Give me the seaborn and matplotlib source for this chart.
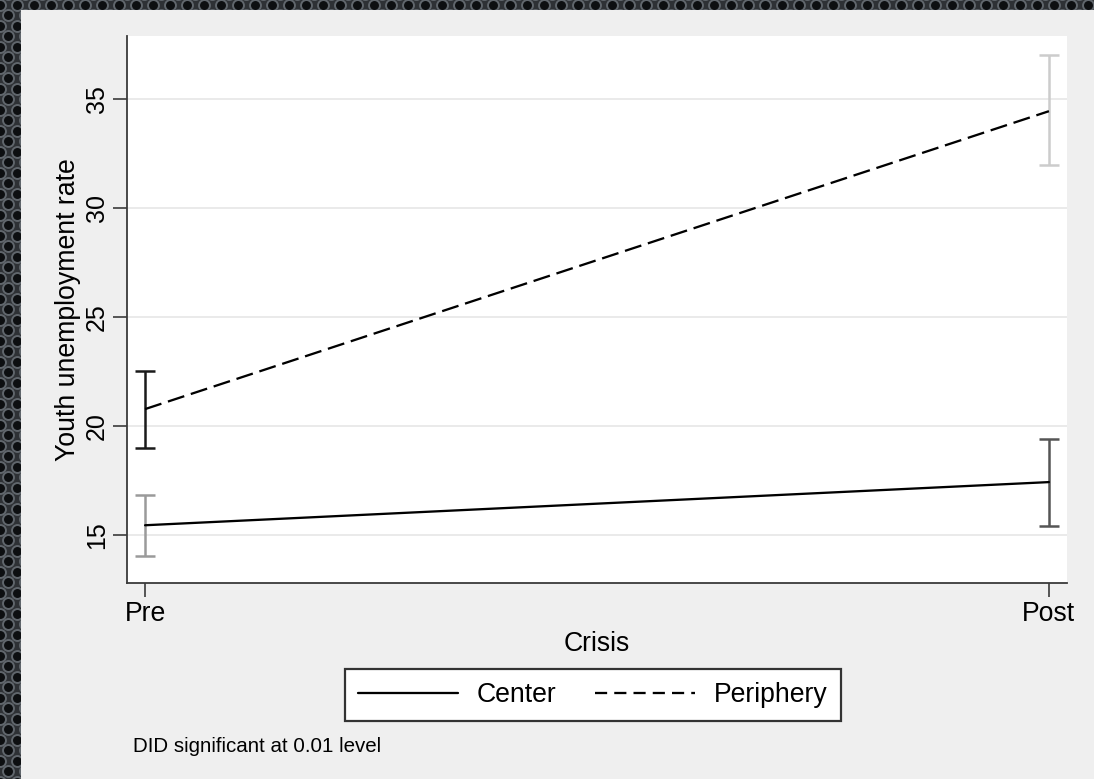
import numpy as np
import pandas as pd
import matplotlib
matplotlib.use("Agg")
import matplotlib.pyplot as plt
from matplotlib.patches import Rectangle
from matplotlib.lines import Line2D
import seaborn as sns

# Youth unemployment before and after the crisis, by region group
periods = ["Pre", "Post"]
groups = ["Center", "Periphery"]
center_mean = [15.45, 17.43]
center_lo = [14.05, 15.41]
center_hi = [16.85, 19.40]
periphery_mean = [20.78, 34.45]
periphery_lo = [18.99, 31.97]
periphery_hi = [22.52, 37.02]
yticks = [15, 20, 25, 30, 35]
note = "DID significant at 0.01 level"

sns.set_theme(style="white")
plt.rcParams["font.family"] = ["Liberation Sans", "DejaVu Sans"]
plt.rcParams["text.color"] = "black"
plt.rcParams["axes.labelcolor"] = "black"

W, H = 1094, 779
fig = plt.figure(figsize=(W / 100, H / 100), dpi=100)
fig.patch.set_facecolor("#2e3135")

# perforated-metal backdrop
bg = fig.add_axes([0, 0, 1, 1], zorder=-5)
bg.set_xlim(0, W)
bg.set_ylim(H, 0)
bg.axis("off")
dx, dy = 17.0, 10.5
xs, ys = [], []
for r, y in enumerate(np.arange(-6, H + dy, dy)):
    off = 0 if r % 2 == 0 else dx / 2
    for x in np.arange(8 + off - dx, W + dx, dx):
        xs.append(x)
        ys.append(y)
bg.scatter(xs, ys, s=62, c="#0d0f11", edgecolors="#60666c", linewidths=1.4)
bg.add_patch(Rectangle((21, 10), W - 21, H - 10, facecolor="#efefef",
                       edgecolor="none", zorder=3))

ax = fig.add_axes([127 / W, 1 - 583 / H, (1067 - 127) / W, (583 - 36) / H])
ax.set_facecolor("white")

df = pd.DataFrame({
    "Crisis": [0, 1, 0, 1],
    "rate": center_mean + periphery_mean,
    "group": ["Center", "Center", "Periphery", "Periphery"],
})
sns.lineplot(data=df, x="Crisis", y="rate", style="group",
             style_order=groups, dashes={"Center": "", "Periphery": (7.5, 3.0)},
             color="black", linewidth=1.65, ax=ax, legend=False, zorder=4)

# confidence intervals, each with its own shade
ci_colors = {("Center", 0): "#9a9a9a", ("Center", 1): "#555555",
             ("Periphery", 0): "#1a1a1a", ("Periphery", 1): "#cccccc"}
for g, m, lo, hi in [("Center", center_mean, center_lo, center_hi),
                     ("Periphery", periphery_mean, periphery_lo, periphery_hi)]:
    for i in range(2):
        ax.errorbar([i], [m[i]], yerr=[[m[i] - lo[i]], [hi[i] - m[i]]],
                    fmt="none", ecolor=ci_colors[(g, i)], elinewidth=1.8,
                    capsize=7, capthick=1.8, zorder=3)

ax.set_xlim(-0.02, 1.02)
ax.set_ylim(12.8, 37.9)
ax.set_xticks([0, 1])
ax.set_xticklabels(periods, fontsize=19.2)
ax.set_yticks(yticks)
ax.set_yticklabels([str(t) for t in yticks], rotation=90, va="center",
                   fontsize=18)
ax.yaxis.grid(True, color="#e6e6e6", linewidth=1.2)
ax.set_axisbelow(True)
for s in ["top", "right"]:
    ax.spines[s].set_visible(False)
for s in ["left", "bottom"]:
    ax.spines[s].set_color("#3a3a3a")
    ax.spines[s].set_linewidth(1.3)
ax.tick_params(axis="both", which="major", direction="out", length=10,
               width=1.2, color="#3a3a3a", labelcolor="black",
               left=True, bottom=True)
ax.tick_params(axis="x", pad=3)
ax.tick_params(axis="y", pad=3)
ax.set_xlabel("Crisis", fontsize=19.2, labelpad=3)
ax.set_ylabel("Youth unemployment rate", fontsize=19.2, labelpad=3)

handles = [Line2D([], [], color="black", lw=1.65),
           Line2D([], [], color="black", lw=1.65, dashes=(5.3, 3.1))]
leg = fig.legend(handles, groups, loc="center", bbox_to_anchor=(593 / W, 1 - 695 / H),
                 ncol=2, fontsize=19.2, frameon=True, fancybox=False,
                 handlelength=3.75, handletextpad=0.7, columnspacing=1.45,
                 borderpad=0.5, edgecolor="#333333", facecolor="white",
                 framealpha=1)
leg.get_frame().set_linewidth(1.6)

fig.text(133 / W, 1 - 746 / H, note, fontsize=14.8, va="center", ha="left",
         color="black")

fig.savefig("out.png", dpi=100, facecolor=fig.get_facecolor())
